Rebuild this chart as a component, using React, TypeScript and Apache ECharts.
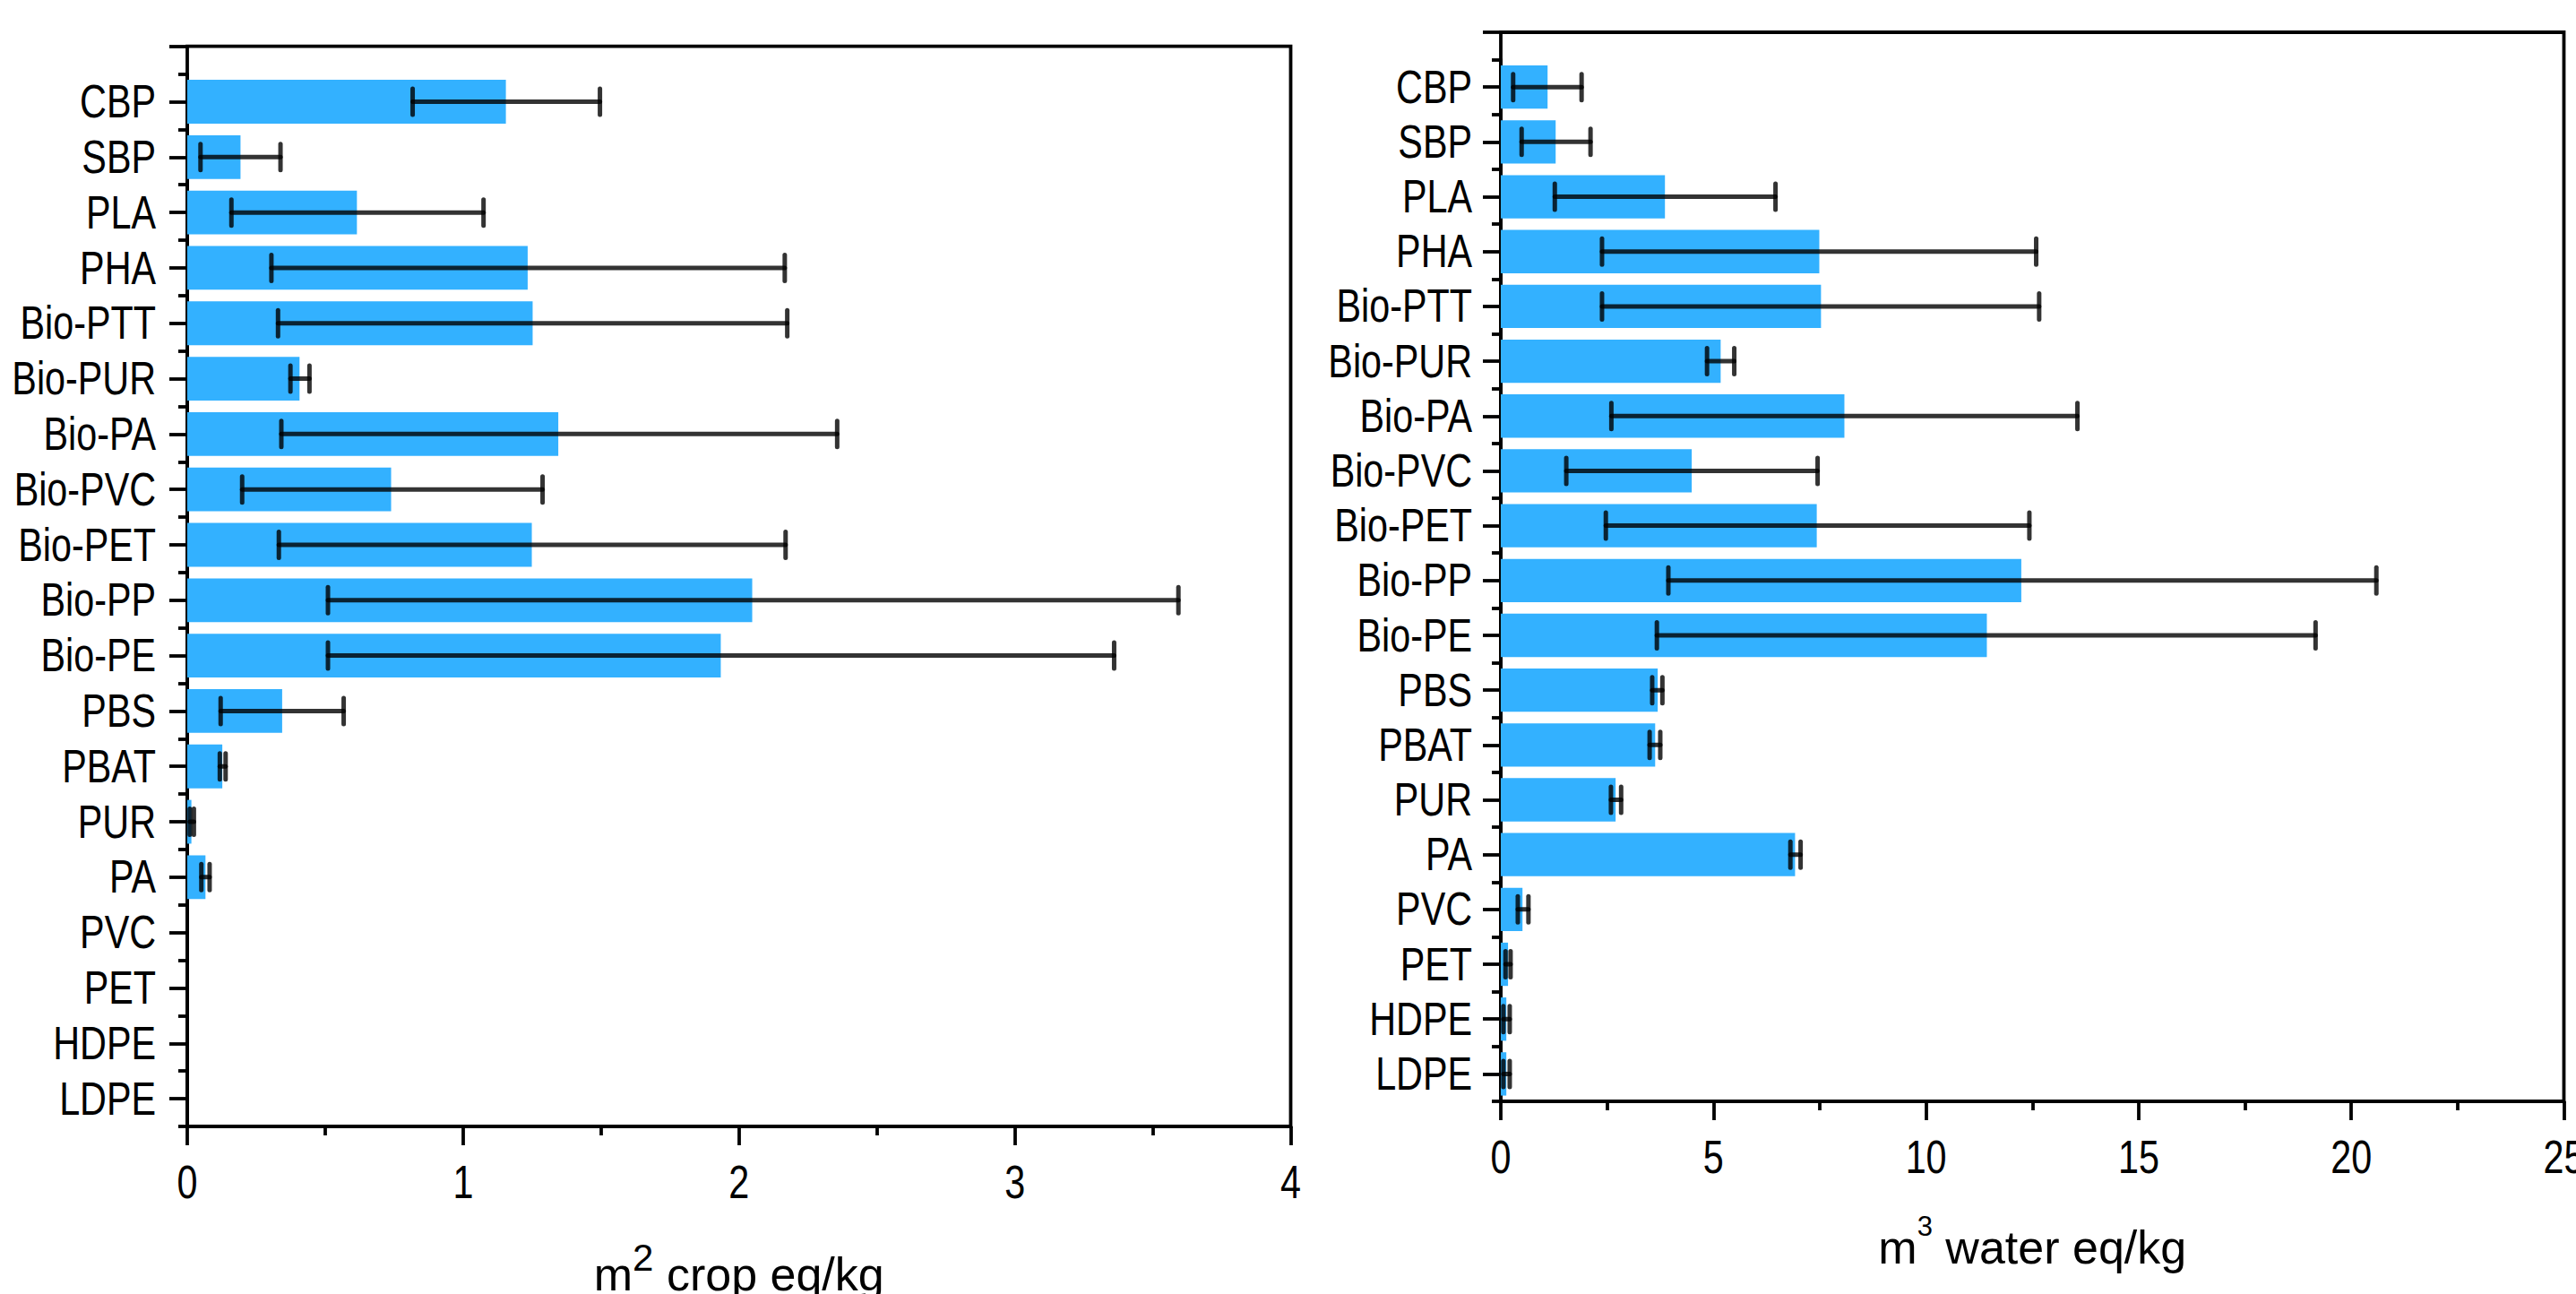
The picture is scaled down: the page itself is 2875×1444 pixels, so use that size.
import React, { useEffect, useRef } from "react";
import * as echarts from "echarts";

// Categories, listed from top to bottom as in the figure
const categories = [
  "CBP", "SBP", "PLA", "PHA", "Bio-PTT", "Bio-PUR", "Bio-PA", "Bio-PVC", "Bio-PET",
  "Bio-PP", "Bio-PE", "PBS", "PBAT", "PUR", "PA", "PVC", "PET", "HDPE", "LDPE",
];

// Left panel: land use (m2 crop eq/kg)
const landValues = [1.155, 0.193, 0.615, 1.234, 1.252, 0.407, 1.345, 0.739, 1.249, 2.048, 1.934, 0.344, 0.127, 0.015, 0.066, 0, 0, 0, 0];
const landLow: (number | null)[] = [0.817, 0.048, 0.16, 0.305, 0.329, 0.374, 0.341, 0.199, 0.332, 0.51, 0.51, 0.121, 0.118, 0.009, 0.051, null, null, null, null];
const landHigh: (number | null)[] = [1.496, 0.338, 1.074, 2.166, 2.175, 0.443, 2.356, 1.288, 2.169, 3.593, 3.36, 0.567, 0.139, 0.024, 0.081, null, null, null, null];
const landTicks = [0, 1, 2, 3, 4];

// Right panel: water use (m3 water eq/kg)
const waterValues = [1.1, 1.29, 3.86, 7.49, 7.53, 5.17, 8.08, 4.49, 7.43, 12.24, 11.43, 3.69, 3.63, 2.7, 6.92, 0.51, 0.17, 0.13, 0.13];
const waterLow: (number | null)[] = [0.29, 0.49, 1.27, 2.38, 2.38, 4.85, 2.6, 1.54, 2.47, 3.94, 3.67, 3.56, 3.5, 2.59, 6.81, 0.4, 0.11, 0.06, 0.06];
const waterHigh: (number | null)[] = [1.9, 2.11, 6.46, 12.59, 12.66, 5.49, 13.56, 7.45, 12.43, 20.59, 19.16, 3.8, 3.75, 2.83, 7.05, 0.65, 0.23, 0.21, 0.21];
const waterTicks = [0, 5, 10, 15, 20, 25];

const BAR_COLOR = "#33b1ff";
const FONT = "'Liberation Sans', Arial, Helvetica, sans-serif";
const AXIS_W = 3.8;
const LABEL_SIZE = 51;
const NARROW_SCALE = 0.81;

function errData(low: (number | null)[], high: (number | null)[]) {
  const out: number[][] = [];
  low.forEach((l, i) => {
    const h = high[i];
    if (l !== null && h !== null) out.push([l, h, i]);
  });
  return out;
}

function renderErr(params: any, api: any) {
  const y = api.value(2);
  const lo = api.coord([api.value(0), y]);
  const hi = api.coord([api.value(1), y]);
  const cap = 14.5;
  const style = { stroke: "rgba(0,0,0,0.8)", lineWidth: 5, lineCap: "round" };
  return {
    type: "group",
    children: [
      { type: "line", shape: { x1: lo[0], y1: lo[1], x2: hi[0], y2: hi[1] }, style },
      { type: "line", shape: { x1: lo[0], y1: lo[1] - cap, x2: lo[0], y2: lo[1] + cap }, style },
      { type: "line", shape: { x1: hi[0], y1: hi[1] - cap, x2: hi[0], y2: hi[1] + cap }, style },
    ],
  };
}

type PanelOpts = {
  gi: number; xi: number; yi: number;
  left: number; right: number; dataTop: number; frameTop: number; bottom: number;
  ticks: number[]; values: number[]; low: (number | null)[]; high: (number | null)[];
  title: string; sup: string; nameGap: number; supSize: number; lineH: number;
};

function panel(opts: PanelOpts) {
  const { gi, xi, yi } = opts;
  const tmin = opts.ticks[0];
  const tmax = opts.ticks[opts.ticks.length - 1];
  const interval = opts.ticks[1] - opts.ticks[0];
  const grids = [
    { left: opts.left, right: opts.right, top: opts.dataTop, bottom: opts.bottom, containLabel: false, outerBoundsMode: "none" },
    {
      left: opts.left, right: opts.right, top: opts.frameTop, bottom: opts.bottom, containLabel: false, outerBoundsMode: "none",
      show: true, borderColor: "#000", borderWidth: AXIS_W, backgroundColor: "transparent",
    },
  ];
  const xAxes = [
    {
      gridIndex: gi, type: "value", min: tmin, max: tmax, interval,
      axisLine: { show: true, lineStyle: { color: "#000", width: AXIS_W } },
      axisTick: { show: true, length: 21, lineStyle: { color: "#000", width: AXIS_W } },
      minorTick: { show: true, splitNumber: 2, length: 10, lineStyle: { color: "#000", width: AXIS_W } },
      splitLine: { show: false },
      minorSplitLine: { show: false },
      axisLabel: { show: false },
      name: `{m|m}{s|${opts.sup}}{m|${opts.title}}`,
      nameLocation: "middle",
      nameGap: opts.nameGap,
      nameTextStyle: {
        color: "#000",
        rich: {
          m: { fontSize: 52, fontFamily: FONT, color: "#000", lineHeight: opts.lineH },
          s: { fontSize: opts.supSize, fontFamily: FONT, color: "#000", lineHeight: opts.supSize, verticalAlign: "top" },
        },
      },
    },
    { gridIndex: gi + 1, type: "value", show: false },
  ];
  const yAxes = [
    {
      gridIndex: gi, type: "category", data: categories, inverse: true, position: "left", offset: 0,
      axisLine: { show: true, lineStyle: { color: "#000", width: AXIS_W } },
      axisTick: { show: true, alignWithLabel: true, interval: 0, length: 20, lineStyle: { color: "#000", width: AXIS_W } },
      axisLabel: { show: false },
      splitLine: { show: false },
    },
    {
      gridIndex: gi, type: "category", data: categories, inverse: true, position: "left", offset: 0,
      axisLine: { show: false },
      axisTick: { show: true, alignWithLabel: false, interval: 0, length: 10, lineStyle: { color: "#000", width: AXIS_W } },
      axisLabel: { show: false },
      splitLine: { show: false },
    },
    {
      gridIndex: gi + 1, type: "category", data: ["", ""], boundaryGap: false, position: "left",
      axisLine: { show: false },
      axisTick: { show: true, interval: (i: number) => i === 1, length: 20, lineStyle: { color: "#000", width: AXIS_W } },
      axisLabel: { show: false },
      splitLine: { show: false },
    },
  ];
  const series = [
    {
      type: "bar", xAxisIndex: xi, yAxisIndex: yi, data: opts.values, barWidth: "79%",
      itemStyle: { color: BAR_COLOR }, z: 2,
    },
    {
      type: "custom", xAxisIndex: xi, yAxisIndex: yi, data: errData(opts.low, opts.high),
      encode: { x: [0, 1], y: 2 }, renderItem: renderErr, z: 5,
    },
  ];
  return { grids, xAxes, yAxes, series };
}

// Narrow (condensed) tick labels placed with the axes' own scales
function labelGraphics(chart: any, xi: number, yi: number, axisX: number, axisY: number, ticks: number[], yMargin: number) {
  const out: any[] = [];
  categories.forEach((c) => {
    const py = chart.convertToPixel({ yAxisIndex: yi }, c);
    out.push({
      type: "text", x: axisX - yMargin, y: py, scaleX: NARROW_SCALE, silent: true,
      style: {
        text: c, fill: "#000", fontSize: LABEL_SIZE, fontFamily: FONT,
        align: "right", verticalAlign: "middle", textAlign: "right", textVerticalAlign: "middle",
      },
    });
  });
  ticks.forEach((t) => {
    const px = chart.convertToPixel({ xAxisIndex: xi }, t);
    out.push({
      type: "text", x: px, y: axisY + 37, scaleX: NARROW_SCALE, silent: true,
      style: {
        text: String(t), fill: "#000", fontSize: LABEL_SIZE, fontFamily: FONT,
        align: "center", verticalAlign: "top", textAlign: "center", textVerticalAlign: "top",
      },
    });
  });
  return out;
}

export default function App() {
  const ref = useRef<HTMLDivElement>(null);
  useEffect(() => {
    if (!ref.current) return;
    const chart = echarts.init(ref.current, undefined, { renderer: "svg" });
    const W = 2875;
    const H = 1444;
    const leftAxisX = 209;
    const leftAxisY = 1257;
    const rightAxisX = 1675;
    const rightAxisY = 1229;
    const L = panel({
      gi: 0, xi: 0, yi: 0,
      left: leftAxisX, right: W - 1440.5, dataTop: 82.6, frameTop: 51.7, bottom: H - leftAxisY,
      ticks: landTicks, values: landValues, low: landLow, high: landHigh,
      title: " crop eq/kg", sup: "2", nameGap: 125, supSize: 42, lineH: 80,
    });
    const R = panel({
      gi: 2, xi: 2, yi: 3,
      left: rightAxisX, right: W - 2861.5, dataTop: 66.6, frameTop: 36, bottom: H - rightAxisY,
      ticks: waterTicks, values: waterValues, low: waterLow, high: waterHigh,
      title: " water eq/kg", sup: "3", nameGap: 124, supSize: 31, lineH: 78,
    });
    chart.setOption({
      animation: false,
      backgroundColor: "#fff",
      grid: [...L.grids, ...R.grids],
      xAxis: [...L.xAxes, ...R.xAxes],
      yAxis: [...L.yAxes, ...R.yAxes],
      series: [...L.series, ...R.series],
    } as any);
    const graphics = [
      ...labelGraphics(chart, 0, 0, leftAxisX, leftAxisY, landTicks, 35),
      ...labelGraphics(chart, 2, 3, rightAxisX, rightAxisY, waterTicks, 32),
    ];
    chart.setOption({ graphic: graphics } as any);
    return () => chart.dispose();
  }, []);
  return (
    <div
      ref={ref}
      style={{ position: "fixed", left: 0, top: 0, width: 2875, height: 1444, background: "#fff" }}
    />
  );
}
